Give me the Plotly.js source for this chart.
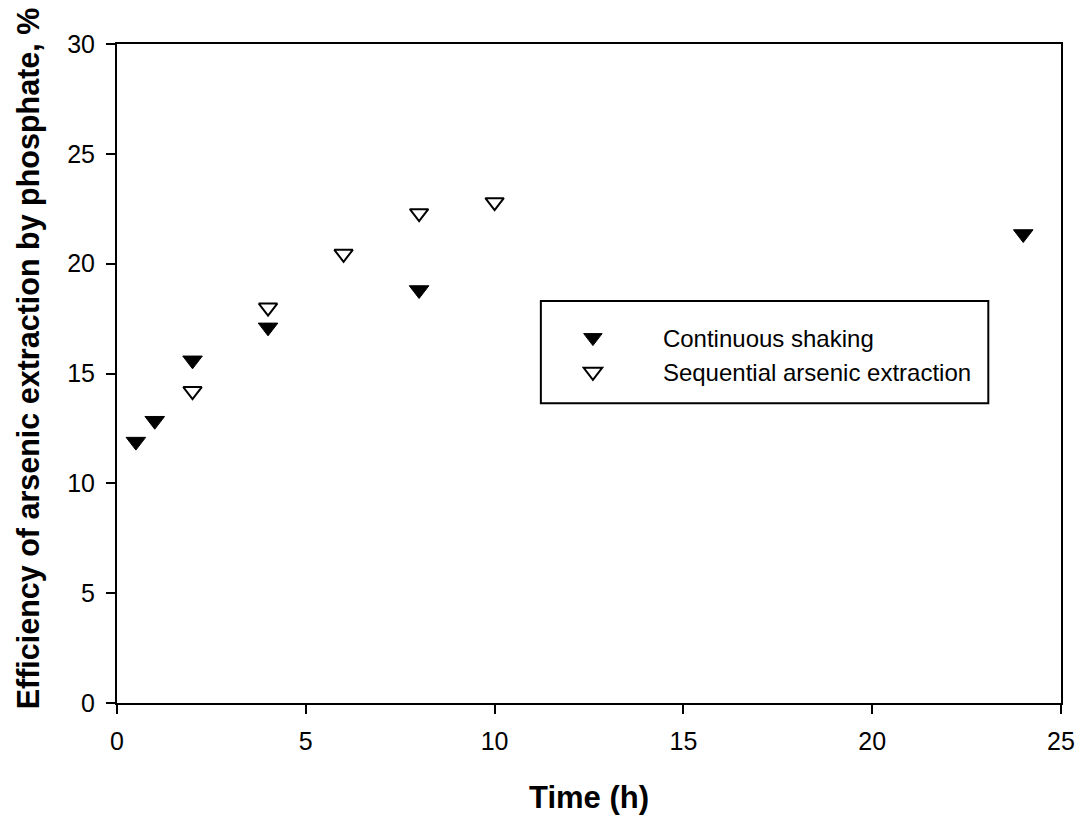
<!DOCTYPE html>
<html>
<head>
<meta charset="utf-8">
<script src="https://cdn.plot.ly/plotly-3.0.1.min.js"></script>
<style>html,body{margin:0;padding:0;background:#fff;}#chart{width:1079px;height:815px;}</style>
</head>
<body>
<div id="chart"></div>
<script>
const contTime = [0.5, 1, 2, 4, 8, 24];
const contEff = [11.9, 12.85, 15.6, 17.1, 18.8, 21.35];
const seqTime = [2, 4, 6, 8, 10];
const seqEff = [14.2, 18.0, 20.45, 22.3, 22.8];
const xTicks = [0, 5, 10, 15, 20, 25];
const yTicks = [0, 5, 10, 15, 20, 25, 30];
const xTitle = "Time (h)";
const yTitle = "Efficiency of arsenic extraction by phosphate, %";

const font = "Liberation Sans, Arial, sans-serif";
const traces = [
  {x: contTime, y: contEff, mode: "markers", type: "scatter", name: "Continuous shaking",
   marker: {symbol: "triangle-down", size: 17, color: "#000", line: {color: "#000", width: 1}}},
  {x: seqTime, y: seqEff, mode: "markers", type: "scatter", name: "Sequential arsenic extraction",
   marker: {symbol: "triangle-down-open", size: 16, color: "#000", line: {color: "#000", width: 2}}}
];
const layout = {
  width: 1079, height: 815,
  margin: {l: 117, r: 18, t: 44, b: 112},
  paper_bgcolor: "#fff", plot_bgcolor: "#fff",
  font: {family: font, size: 24, color: "#000"},
  showlegend: true,
  legend: {x: 0.430, y: 0.588, xanchor: "left", yanchor: "top", bgcolor: "rgba(0,0,0,0)",
           borderwidth: 0, font: {family: font, size: 24, color: "#000"}, itemwidth: 130},
  xaxis: {range: [0, 25], tickvals: xTicks, ticks: "outside", ticklen: 9, tickwidth: 2, tickcolor: "#000",
          showline: true, linewidth: 2, linecolor: "#000", mirror: true, showgrid: false, zeroline: false,
          tickfont: {family: font, size: 25}, ticklabelstandoff: 6,
          title: {text: xTitle, font: {family: font, size: 31, weight: "bold"}, standoff: 37}},
  yaxis: {range: [0, 30], tickvals: yTicks, ticks: "outside", ticklen: 9, tickwidth: 2, tickcolor: "#000",
          showline: true, linewidth: 2, linecolor: "#000", mirror: true, showgrid: false, zeroline: false,
          tickfont: {family: font, size: 25}, ticklabelstandoff: 6},
  annotations: [{text: yTitle, xref: "paper", yref: "paper", x: 0, y: 0.523, xanchor: "center", yanchor: "middle",
                 xshift: -89, textangle: -90, showarrow: false,
                 font: {family: font, size: 30.5, weight: "bold", color: "#000"}}],
  shapes: [{type: "rect", xref: "paper", yref: "paper", x0: 0.449, x1: 0.923, y0: 0.455, y1: 0.61,
            line: {color: "#000", width: 2}, fillcolor: "rgba(0,0,0,0)"}]
};
Plotly.newPlot("chart", traces, layout, {displayModeBar: false, staticPlot: true});
</script>
</body>
</html>
